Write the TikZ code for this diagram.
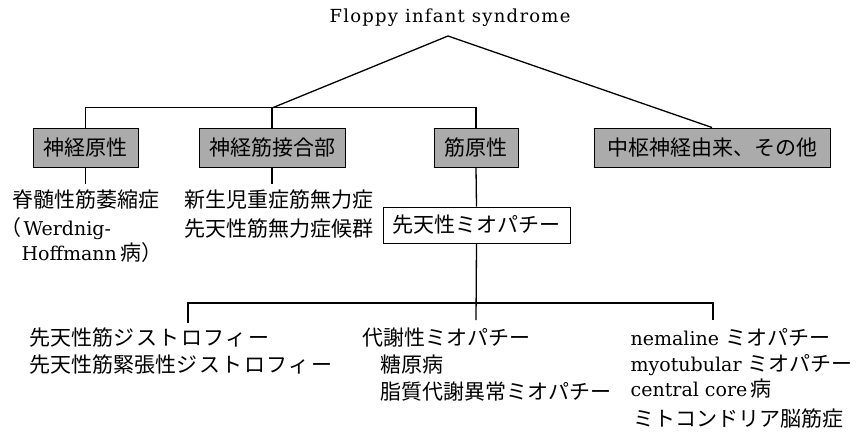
\documentclass[tikz,border=0pt]{standalone}
\usepackage{fontspec}
\setmainfont{DejaVu Serif}
\newfontfamily\jp{Noto Sans CJK JP}
\newcommand\jt[1]{{\jp\fontsize{21}{24}\selectfont #1}}
\newcommand\kt[1]{{\jp\fontsize{21}{24}\selectfont\addfontfeature{LetterSpace=7}#1}}
\begin{document}
\begin{tikzpicture}[x=1pt,y=-1pt,line width=1.3pt,
  graybox/.style={draw,fill=black!33,line width=1pt,inner sep=0pt,minimum height=39pt,font=\jp\fontsize{21}{24}\selectfont},
  whitebox/.style={draw,fill=white,line width=1pt,inner sep=0pt,minimum height=36pt,font=\jp\fontsize{21}{24}\selectfont},
  txt/.style={anchor=base west,inner sep=0pt,font=\fontsize{19}{24}\selectfont},
  ttl/.style={anchor=base,inner sep=0pt,font=\fontsize{18}{22}\selectfont\addfontfeature{LetterSpace=7}}]
\useasboundingbox (0,0) rectangle (858,432);
\node[ttl] (title) at (450,22) {Floppy infant syndrome};
\node[graybox,minimum width=105pt] (b1) at (85.5,147.5) {神経原性};
\node[graybox,minimum width=146pt] (b2) at (272,147.5) {神経筋接合部};
\node[graybox,minimum width=84pt] (b3) at (476,147.5) {筋原性};
\node[graybox,minimum width=236pt] (b4) at (712,147.5) {中枢神経由来、その他};
\node[whitebox,minimum width=187pt] (b5) at (476.5,225) {先天性ミオパチー};
\coordinate (apex) at (448,36);
\coordinate (j) at (272,108);
\draw (apex) -- (j);
\draw (apex) -- (b4.north);
\draw (b1.north) -- ++(0,-20) -| (b3.north);
\draw (b2.north) -- (j);
\draw (b1.south) -- ++(0,16);
\draw (b2.south) -- ++(0,16);
\draw (b3.south) -- (b5.north);
\coordinate (L) at (188,303);
\coordinate (d1) at (188,323);
\coordinate (d2) at (476,320);
\coordinate (d3) at (713,320);
\draw (d1) -- (L) -- (d3 |- L) -- (d3);
\draw (b5.south) -- (d2);
% upper texts
\node[txt] (t1) at (12,207) {\jt{脊髄性筋萎縮症}};
\node[txt] (t2) at (0,235) {\jt{（}\hspace{2pt}Werdnig-};
\node[txt] (t3) at (21,260) {Hoffmann\,\jt{病）}};
\node[txt] (t4) at (184,207) {\jt{新生児重症筋無力症}};
\node[txt] (t5) at (184,236) {\jt{先天性筋無力症候群}};
% lower texts
\node[txt] (u1) at (29,345) {\jt{先天性筋}\kt{ジストロフィー}};
\node[txt] (u2) at (29,372) {\jt{先天性筋緊張性}\kt{ジストロフィー}};
\node[txt] (v1) at (362,345) {\jt{代謝性ミオパチー}};
\node[txt] (v2) at (380,372) {\jt{糖原病}};
\node[txt] (v3) at (380,399) {\jt{脂質代謝異常ミオパチー}};
\node[txt] (w1) at (630,345) {nemaline \jt{ミオパチー}};
\node[txt] (w2) at (630,371) {myotubular \jt{ミオパチー}};
\node[txt] (w3) at (630,396) {central core\,\jt{病}};
\node[txt] (w4) at (633,426) {\jt{ミトコンドリア脳筋症}};
\end{tikzpicture}
\end{document}
